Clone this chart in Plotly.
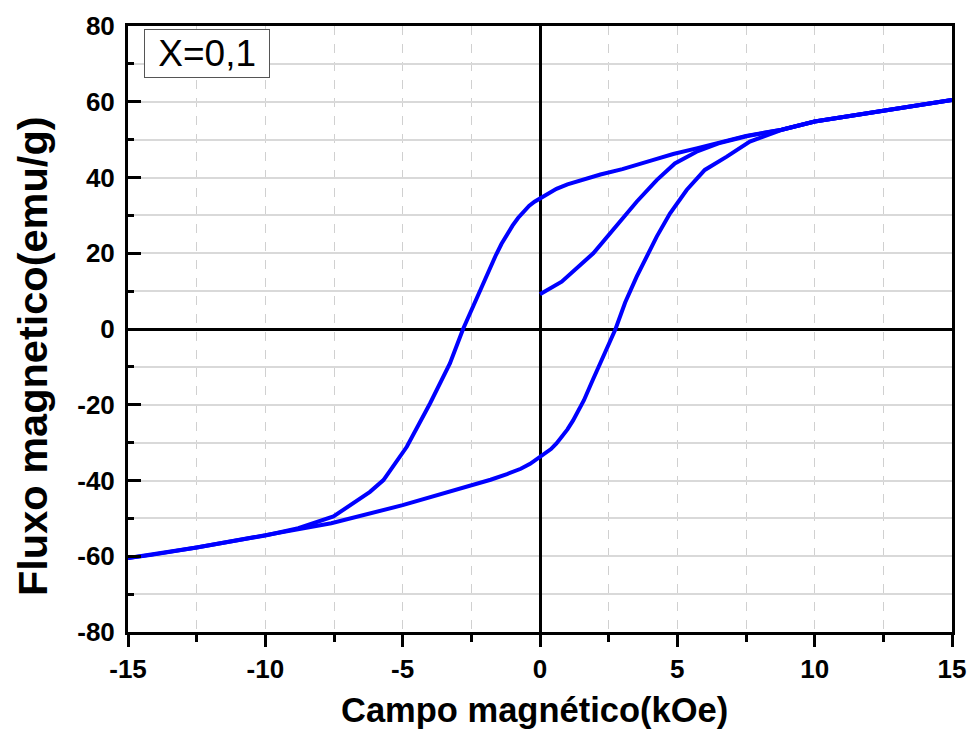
import plotly.graph_objects as go

# Initial magnetization curve
init_x = [0.0, 0.79, 1.94, 2.97, 3.52, 4.25, 4.91, 5.7, 6.5, 7.52, 8.8, 10.0, 12.5, 15.0]
init_y = [9.2, 12.5, 20.0, 28.8, 33.6, 39.3, 43.7, 46.8, 49.0, 50.9, 52.6, 54.8, 57.6, 60.5]

# Descending branch (from +15 to -15)
desc_x = [15.0, 12.5, 10.0, 8.8, 7.5, 5.7, 4.85, 4.1, 3.0, 2.2, 1.5, 1.0, 0.6, 0.3, 0.0, -0.2, -0.4,
          -0.6, -0.8, -1.0, -1.2, -1.4, -1.6, -1.9, -2.3, -2.8, -3.28, -4.0, -4.85, -5.7,
          -6.19, -7.52, -8.8, -10.0, -12.5, -14.2, -15.0]
desc_y = [60.5, 57.6, 54.8, 52.6, 51.0, 47.7, 46.2, 44.6, 42.2, 40.8, 39.3, 38.2, 37.0, 35.8, 34.4, 33.6, 32.5,
          31.0, 29.3, 27.3, 25.0, 22.5, 19.6, 14.7, 7.7, 0.0, -9.1, -19.6, -31.1, -39.9,
          -43.0, -49.5, -52.6, -54.5, -57.7, -59.7, -60.5]

# Ascending branch (from -15 to +15)
asc_x = [-15.0, -14.2, -12.5, -10.0, -7.6, -5.0, -2.55, -1.8, -1.2, -0.7, -0.36, 0.0, 0.2, 0.4, 0.6,
         0.8, 1.0, 1.2, 1.4, 1.6, 1.9, 2.3, 2.75, 3.1, 3.52, 4.25, 4.73, 5.34, 6.0, 6.8,
         7.64, 8.8, 10.0, 12.5, 15.0]
asc_y = [-60.5, -59.7, -57.7, -54.4, -51.3, -46.5, -41.4, -39.8, -38.3, -36.9, -35.6, -33.7, -32.8, -31.7, -30.2,
         -28.5, -26.5, -24.2, -21.6, -18.8, -13.8, -7.0, 0.0, 7.0, 13.8, 24.4, 30.5, 36.7, 42.0, 45.5,
         49.5, 52.6, 54.8, 57.6, 60.5]

x_ticks = [-15, -10, -5, 0, 5, 10, 15]
y_ticks = [-80, -60, -40, -20, 0, 20, 40, 60, 80]

blue = "#0000ff"
line = dict(color=blue, width=4)

fig = go.Figure()
for xs, ys in [(init_x, init_y), (desc_x, desc_y), (asc_x, asc_y)]:
    fig.add_trace(go.Scatter(x=xs, y=ys, mode="lines", line=line, showlegend=False))

font_fam = "Liberation Sans, Arial, sans-serif"

fig.update_layout(
    width=973, height=738,
    margin=dict(l=128, r=21, t=26, b=106, autoexpand=False),
    paper_bgcolor="white", plot_bgcolor="white",
    showlegend=False,
    xaxis=dict(
        range=[-15, 15], tickvals=x_ticks, ticktext=[str(v) for v in x_ticks],
        automargin=False,
        ticks="outside", ticklen=12, tickwidth=3, tickcolor="black",
        showline=True, linewidth=3, linecolor="black", mirror=True,
        showgrid=False,
        zeroline=True, zerolinecolor="black", zerolinewidth=3,
        tickfont=dict(family=font_fam, size=26, color="black", weight="bold"),
        ticklabelstandoff=0,
        minor=dict(tick0=0, dtick=2.5, ticks="outside", ticklen=7, tickwidth=3,
                   tickcolor="black", showgrid=True, gridcolor="#d0d0d0",
                   gridwidth=1, griddash="dash"),
    ),
    yaxis=dict(
        range=[-80, 80], tickvals=y_ticks, ticktext=[str(v) for v in y_ticks],
        automargin=False,
        ticks="inside", ticklen=13, tickwidth=3, tickcolor="black",
        showline=True, linewidth=3, linecolor="black", mirror=True,
        showgrid=False,
        zeroline=True, zerolinecolor="black", zerolinewidth=3,
        tickfont=dict(family=font_fam, size=26, color="black", weight="bold"),
        ticklabelstandoff=5,
        minor=dict(tick0=0, dtick=10, ticks="inside", ticklen=6, tickwidth=3,
                   tickcolor="black", showgrid=True, gridcolor="#d9d9d9",
                   gridwidth=1.5),
    ),
    annotations=[
        dict(text=" X=0,1 ", xref="paper", yref="paper", x=0.019, y=0.995,
             xanchor="left", yanchor="top", showarrow=False,
             font=dict(family=font_fam, size=37, color="black"),
             bordercolor="#555555", borderwidth=1, borderpad=3, bgcolor="white"),
        dict(text="Campo magnético(kOe)", xref="paper", yref="paper",
             x=0.4934, y=-0.128, xanchor="center", yanchor="middle", showarrow=False,
             font=dict(family=font_fam, size=34.5, color="black", weight="bold")),
        dict(text="Fluxo magnetico(emu/g)", xref="paper", yref="paper",
             x=-0.1165, y=0.4554, xanchor="center", yanchor="middle", showarrow=False,
             textangle=-90,
             font=dict(family=font_fam, size=41.5, color="black", weight="bold")),
    ],
)

fig.write_html("out.html")
